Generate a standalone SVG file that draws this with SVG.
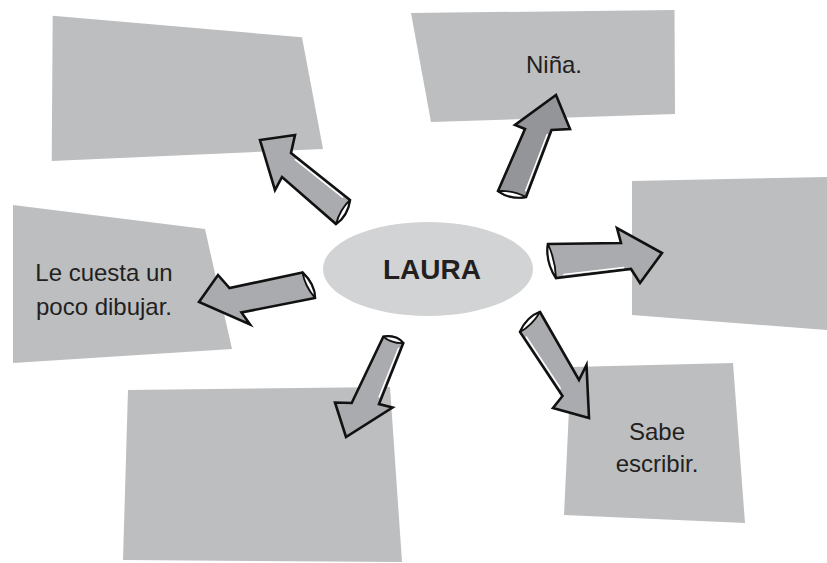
<svg xmlns="http://www.w3.org/2000/svg" width="827" height="563" viewBox="0 0 827 563">
<style>
.box{fill:#bcbec0;}
.oval{fill:#d1d3d4;}
.t{font-family:"Liberation Sans",Arial,sans-serif;font-size:24px;fill:#231f20;text-anchor:middle;}
.tb{font-family:"Liberation Sans",Arial,sans-serif;font-size:28px;font-weight:bold;fill:#231f20;text-anchor:middle;}
.arr{fill:#a9abae;stroke:#111;stroke-width:2.6;stroke-linejoin:miter;stroke-miterlimit:6;}
.dark{fill:#939598;}
.curl{fill:#fff;stroke:#111;stroke-width:1.8;stroke-linejoin:round;}
.hl{fill:none;stroke:#fff;stroke-width:1.5;stroke-linecap:round;}
</style>
<rect width="827" height="563" fill="#fff"/>
<g id="box-top-left"><polygon class="box" points="52.7,15.7 302,37.3 323,149 51.7,161"/></g>
<g id="box-top-right"><polygon class="box" points="411,13 674.5,10 675,114 431,122"/><text class="t" x="554" y="73">Niña.</text></g>
<g id="box-right"><polygon class="box" points="632,181 827,177 827,330 632,315"/></g>
<g id="box-left"><polygon class="box" points="13,205 205,229 232,349 13,363"/><text class="t" x="104" y="281">Le cuesta un</text><text class="t" x="104" y="315">poco dibujar.</text></g>
<g id="box-bottom-left"><polygon class="box" points="128,390 390,387 402,562 123,560"/></g>
<g id="box-bottom-right"><polygon class="box" points="571,367 733,363 745,523 564,515"/><text class="t" x="657" y="440">Sabe</text><text class="t" x="657" y="472">escribir.</text></g>
<g id="laura"><ellipse class="oval" cx="428" cy="269" rx="105" ry="47"/><text class="tb" x="432" y="279">LAURA</text></g>
<g id="connectors">
<g id="arrow-top-left">
<path class="arr" d="M350,200 L291,153 L295,135 L260,140 L275,190 L282,177 L336,224 Q347.5,215.9 350,200 Z"/>
<path class="curl" d="M350,200 Q347.5,215.9 336,224 Q340,209.4 350,200 Z"/>
<path class="hl" d="M295.3,159.7 L342.5,197.2"/>
</g>
<g id="arrow-top-right">
<path class="arr dark" d="M498,191 L525,129 L515,125 L556,95 L570,129 L551.5,130 L526,197 Q509.6,199.5 498,191 Z"/>
<path class="curl" d="M498,191 Q509.6,199.5 526,197 Q513.6,190.3 498,191 Z"/>
<path class="hl" d="M547.2,134.5 L525.7,190.7"/>
</g>
<g id="arrow-right">
<path class="arr" d="M548,244 L621,243 L617,228 L662,253 L640,283 L631,269 L556,278 Q545.5,261.4 548,244 Z"/>
<path class="curl" d="M548,244 Q545.5,261.4 556,278 Q555.5,260.7 548,244 Z"/>
<path class="hl" d="M563.8,274.6 L623.8,267.4"/>
</g>
<g id="arrow-left">
<path class="arr" d="M302.5,272.5 L229.5,288 L218,275 L199,302 L250,324.5 L241.5,312.5 L315,298 Q314.7,284.3 302.5,272.5 Z"/>
<path class="curl" d="M302.5,272.5 Q314.7,284.3 315,298 Q304.8,285.9 302.5,272.5 Z"/>
</g>
<g id="arrow-bottom-left">
<path class="arr" d="M383.3,336.7 L351.7,403 L335,402.5 L346,437 L392.5,407.5 L379,404 L403.3,343 Q395.9,334.5 383.3,336.7 Z"/>
<path class="curl" d="M383.3,336.7 Q395.9,334.5 403.3,343 Q391.5,343.5 383.3,336.7 Z"/>
<path class="hl" d="M398.6,348.2 L379.1,397"/>
</g>
<g id="arrow-bottom-right">
<path class="arr" d="M540,312 L579,380 L586.5,365 L589,418 L553,408 L562.5,396 L520,332 Q526.9,316.9 540,312 Z"/>
<path class="curl" d="M540,312 Q526.9,316.9 520,332 Q532.1,325.4 540,312 Z"/>
<path class="hl" d="M526.3,337 L560.3,388.2"/>
</g>
</g>
</svg>
